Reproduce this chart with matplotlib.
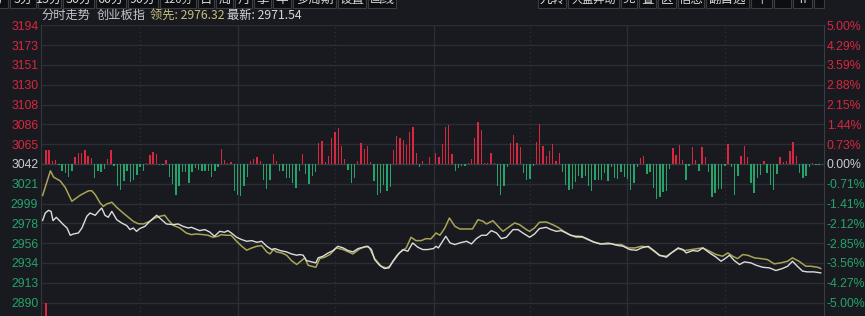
import matplotlib.pyplot as plt
from matplotlib.patches import Rectangle
import numpy as np

# previous close of the index, the chart is +-5% around it
prev_close = 3042.0
price_labels = ["3194", "3173", "3151", "3130", "3108", "3086", "3065", "3042",
                "3021", "2999", "2978", "2956", "2934", "2913", "2890"]
pct_labels = ["5.00%", "4.29%", "3.59%", "2.88%", "2.15%", "1.44%", "0.73%", "0.00%",
              "-0.71%", "-1.41%", "-2.12%", "-2.85%", "-3.56%", "-4.27%", "-5.00%"]

# minute index (0 = 9:30, 240 = 15:00) and price of the index line (white)
white_t = [0, 0.8, 1.8, 2.6, 3.2, 4.2, 4.9, 6.4, 7.5, 8.5, 9.5, 11.0, 12.1, 13.6, 14.6,
           16.2, 17.2, 18.2, 19.2, 20.2, 21.3, 22.8, 24.3, 25.9, 26.9, 27.9, 28.9, 29.9,
           31.5, 33.0, 35.1, 36.6, 38.1, 40.2, 41.7, 43.2, 44.8, 45.8, 46.8, 48.3, 49.9,
           51.4, 52.9, 54.5, 56.0, 57.0, 58.1, 59.7, 61.3, 62.8, 64.4, 65.9, 67.4, 69.0,
           70.5, 71.5, 73.1, 75.1, 76.6, 78.2, 79.2, 80.2, 81.2, 82.8, 84.1, 84.8, 86.3,
           87.9, 89.4, 90.9, 92.5, 94.0, 95.5, 97.1, 98.6, 100.1, 101.2, 102.2, 103.7,
           105.2, 106.6, 107.8, 109.3, 110.9, 112.4, 113.9, 115.5, 117.0, 118.5, 120.3,
           121.1, 121.8, 122.8, 124.1, 125.4, 126.9, 128.4, 130.5, 132.0, 133.5, 135.1,
           136.6, 138.1, 139.7, 141.2, 142.7, 144.8, 146.3, 147.8, 149.9, 151.4, 152.9,
           155.0, 156.5, 158.1, 159.6, 161.1, 162.7, 164.0, 165.9, 167.5, 169.5, 171.5,
           173.6, 175.1, 176.7, 178.7, 180.7, 182.8, 184.3, 186.4, 188.4, 189.9, 192.0,
           193.5, 195.6, 197.1, 198.1, 200.1, 201.7, 203.2, 205.3, 207.3, 208.8, 210.4,
           211.4, 212.9, 214.5, 216.0, 218.0, 219.6, 221.6, 223.7, 225.7, 227.7, 229.3,
           230.8, 232.3, 233.9, 235.4, 237.4, 239.5]
white_p = [2980.0, 2988.2, 2991.1, 2990.0, 2979.8, 2983.5, 2980.9, 2975.4, 2971.8, 2963.8,
           2965.2, 2966.3, 2971.8, 2984.6, 2988.2, 2985.7, 2990.0, 2993.7, 2985.7, 2983.5,
           2990.0, 2980.9, 2977.3, 2974.4, 2970.0, 2971.8, 2968.1, 2971.1, 2973.6, 2979.1,
           2985.7, 2980.9, 2976.2, 2975.4, 2976.2, 2973.6, 2971.8, 2972.5, 2971.1, 2968.9,
           2970.0, 2967.4, 2962.7, 2968.1, 2967.1, 2968.9, 2966.3, 2961.6, 2959.0, 2957.2,
           2957.9, 2956.1, 2957.2, 2951.7, 2948.1, 2949.2, 2947.0, 2945.5, 2943.3, 2941.9,
           2942.6, 2941.9, 2936.0, 2934.6, 2933.5, 2939.0, 2940.8, 2944.4, 2947.0, 2951.7,
           2949.9, 2947.0, 2945.5, 2949.2, 2950.6, 2951.7, 2948.1, 2937.1, 2930.9, 2927.3,
           2928.0, 2935.3, 2942.6, 2948.1, 2946.3, 2955.4, 2950.6, 2948.1, 2948.1, 2949.2,
           2951.7, 2949.9, 2955.4, 2962.7, 2955.4, 2953.6, 2955.4, 2957.2, 2954.3, 2960.1,
           2963.8, 2963.8, 2968.9, 2966.3, 2960.1, 2961.6, 2970.0, 2970.0, 2966.3, 2961.6,
           2965.2, 2971.1, 2972.5, 2970.0, 2968.1, 2968.9, 2966.3, 2963.6, 2962.7, 2962.5,
           2960.1, 2956.5, 2954.3, 2954.3, 2954.6, 2952.8, 2951.7, 2948.1, 2947.3, 2949.9,
           2951.7, 2946.3, 2941.9, 2939.7, 2944.4, 2949.9, 2948.1, 2944.4, 2947.0, 2946.3,
           2949.9, 2944.4, 2939.7, 2935.3, 2939.0, 2941.9, 2936.0, 2931.7, 2934.6, 2933.5,
           2930.9, 2928.7, 2928.0, 2925.1, 2927.3, 2929.8, 2935.3, 2929.8, 2924.4, 2923.6,
           2923.6, 2922.5]

# leading index line (yellow)
yellow_t = [0, 2.4, 3.4, 5.4, 7.0, 9.0, 11.6, 14.1, 15.1, 16.2, 17.7, 18.7, 19.7, 21.3,
            22.8, 24.8, 26.4, 27.9, 29.4, 31.0, 33.0, 34.5, 36.1, 37.6, 38.6, 40.2, 42.2,
            44.2, 45.8, 47.3, 49.4, 50.9, 52.4, 54.0, 55.0, 56.5, 58.0, 59.7, 61.3, 62.8,
            64.4, 65.9, 67.4, 69.0, 70.0, 71.0, 72.0, 73.6, 75.1, 76.6, 78.2, 79.2, 80.7,
            81.7, 82.8, 84.1, 85.3, 86.8, 88.4, 90.4, 92.5, 95.5, 97.6, 99.6, 100.6, 102.2,
            104.2, 105.8, 106.8, 108.3, 109.8, 111.9, 113.4, 114.9, 116.5, 118.0, 119.5,
            121.1, 122.3, 123.8, 125.2, 126.9, 128.4, 130.5, 132.3, 134.0, 135.6, 136.6,
            138.6, 140.2, 141.7, 143.8, 145.3, 146.8, 148.9, 149.9, 151.4, 152.9, 155.0,
            157.0, 158.6, 160.1, 162.1, 164.2, 166.2, 167.8, 169.9, 172.0, 174.0, 176.0,
            178.1, 180.2, 182.3, 184.3, 186.4, 188.4, 189.9, 192.0, 193.5, 195.6, 197.6,
            199.6, 201.7, 203.2, 205.3, 207.3, 209.3, 210.9, 212.4, 213.9, 215.5, 217.0,
            219.1, 221.1, 223.1, 225.2, 227.2, 229.3, 230.8, 232.8, 234.9, 236.4, 238.5,
            239.5]
yellow_p = [3007.5, 3034.5, 3027.5, 3023.5, 3016.0, 3001.1, 3007.8, 3012.5, 3012.7, 3008.3,
            2999.2, 2995.5, 2998.1, 3000.0, 2994.4, 2988.2, 2983.5, 2979.1, 2976.5, 2976.2,
            2979.1, 2982.7, 2984.6, 2985.7, 2980.9, 2974.7, 2971.8, 2966.3, 2964.5, 2965.2,
            2964.5, 2963.8, 2961.6, 2962.7, 2964.5, 2963.8, 2963.8, 2957.2, 2951.7, 2947.4,
            2949.9, 2951.7, 2952.5, 2945.5, 2943.3, 2948.1, 2945.5, 2944.4, 2941.9, 2936.0,
            2931.7, 2934.6, 2939.0, 2930.9, 2929.8, 2928.7, 2938.2, 2939.7, 2942.6, 2949.9,
            2948.1, 2943.3, 2948.8, 2951.7, 2949.9, 2938.2, 2929.8, 2928.0, 2929.8, 2937.1,
            2944.4, 2949.9, 2961.6, 2957.9, 2957.9, 2960.1, 2959.8, 2966.3, 2963.8, 2971.8,
            2982.7, 2973.6, 2970.7, 2970.7, 2970.7, 2980.9, 2979.1, 2976.2, 2979.8, 2973.6,
            2968.1, 2973.6, 2977.3, 2975.4, 2970.0, 2968.1, 2971.8, 2978.0, 2978.4, 2975.4,
            2972.5, 2968.9, 2964.5, 2961.6, 2961.6, 2959.0, 2956.1, 2954.3, 2955.4, 2953.6,
            2953.6, 2949.9, 2949.9, 2951.7, 2951.0, 2945.5, 2941.5, 2940.8, 2944.4, 2949.2,
            2947.0, 2948.1, 2949.2, 2949.9, 2946.3, 2942.6, 2940.8, 2944.4, 2940.8, 2938.2,
            2942.6, 2941.9, 2939.0, 2938.2, 2937.1, 2932.4, 2933.5, 2935.3, 2939.0, 2935.3,
            2929.8, 2929.8, 2928.7, 2927.3]

# red / green strength bars, one per minute (241 minutes), raw units
bars_am = [43, 43, 9, 11, -3, -20, -28, -38, -22, 22,
           34, 34, 41, 25, 17, -42, -20, -24, -16, 16,
           43, -5, -65, -78, -52, -22, -55, -48, -33, -8,
           -22, 2, 27, 37, 30, -2, -2, 11, -40, -60,
           -92, -67, -25, -23, -58, -25, -13, -18, -20, -20,
           -20, -38, -22, -10, 45, 13, 3, 5, -82, -92,
           -96, -65, -38, 9, 16, 20, 10, -47, -76, -47,
           30, 9, -22, -20, -42, -42, -56, -73, -22, 30,
           -30, -60, -35, -25, 63, 70, 5, 25, 77, 95,
           108, 53, 16, -17, -57, -42, 9, 63, 44, 53,
           7, -50, -92, -88, -63, -82, -70, 43, 83, 77,
           73, 57, 97, 110, 32, -9, 8, 0, 22]
bars_pm = [32, 20, 60, 110, 116, 30, -20, -12, -5, -6,
           2, 14, 77, 127, 102, 2, 2, 34, 2, -67,
           -92, -65, -10, 63, 88, 62, 52, -27, -47, -45,
           -5, 65, 120, 53, 25, 38, 60, 9, 32, -24,
           -63, -78, -75, -55, -36, -43, -37, -65, -80, -47,
           -48, -48, -28, -52, -10, -43, -46, -23, -40, -45,
           -78, -58, -10, 17, 23, -30, -25, -72, -106, -100,
           -85, -80, -15, 47, 27, 57, 12, -48, -5, 50,
           12, -20, 52, 20, -23, -100, -88, -75, -75, -5,
           60, -8, -93, -37, 25, 53, 20, -56, -86, -42,
           -32, 9, -26, -62, -77, -30, 20, 6, 9, 38,
           65, 25, -28, -42, -36, -8, 2, -4, -4]
bars = [0] + bars_am + [0] + bars_pm + [0]
bar_scale = 0.366

first_volume = 1.0

# toolbar buttons (cut off at the top of the screenshot)
tools_left = ["1分", "5分", "15分", "30分", "60分", "90分", "120分", "日", "周", "月", "季",
              "年", "多周期", "设置", "画线"]
tools_right = ["九转", "大盘异动", "竞", "叠", "区", "信息", "翻自选", "↑", "", "⇈", ""]

BG = "#181a1f"
GRID = "#2b2e34"
RED = "#d8273f"
GREEN = "#26a36a"
NEUTRAL = "#c9ccd1"

plt.rcParams["font.family"] = ["Liberation Sans", "DejaVu Sans"]
cjk = ["Noto Sans CJK SC", "DejaVu Sans"]

W, H = 865, 316
fig = plt.figure(figsize=(W / 100, H / 100), dpi=100, facecolor=BG)

# toolbar strip
bar_h = 7.5
left_edges = [-20, 9, 37, 62, 95, 127, 159, 197, 215, 234, 253, 272, 292, 337, 367, 397]
right_edges = [537, 567, 620, 638, 657, 677, 705, 750, 773, 792, 813, 825]
for edges, labels in [(left_edges, tools_left), (right_edges, tools_right)]:
    for i, lab in enumerate(labels):
        x0, x1 = edges[i] + 1, edges[i + 1] - 1
        fig.patches.append(Rectangle((x0 / W, 1 - bar_h / H), (x1 - x0) / W, bar_h / H + 0.01,
                                     transform=fig.transFigure, facecolor="#0d0e11",
                                     edgecolor="#3b3d42", lw=0.8, zorder=1))
        if lab:
            fs = 9 if len(lab) < 4 else 8
            fig.text((x0 + x1) / 2 / W, 1 + 0.5 / H, lab, color="#d8d8d8", fontsize=fs,
                     ha="center", va="center", family=cjk, zorder=2)

ax = fig.add_axes([41 / W, 0, 783 / W, 291 / H])
ax.set_facecolor(BG)
ax.set_xlim(-0.5, 240.5)
ax.set_ylim(2875.2, 3194.5)

levels = np.linspace(prev_close * 0.95, prev_close * 1.05, 15)[::-1]
for lv in levels:
    ax.axhline(lv, color="#3a3d44" if abs(lv - prev_close) < 0.1 else GRID, lw=1, zorder=1)

for m in [30, 90, 150, 210]:
    ax.axvline(m, color=GRID, lw=1, ls=(0, (1, 2)), zorder=1)
for m in [60, 120.5, 180]:
    ax.axvline(m, color=GRID, lw=1, zorder=1)

vals = np.array(bars) * bar_scale
ax.bar(np.arange(len(bars)), vals, bottom=prev_close, width=0.42,
       color=[RED if v > 0 else GREEN for v in vals], linewidth=0, zorder=2)

ax.plot(yellow_t, yellow_p, color="#a9a456", lw=1.1, zorder=3)
ax.plot(white_t, white_p, color="#dcdcdc", lw=1.0, zorder=4)

for side in ["top", "bottom"]:
    ax.spines[side].set_visible(False)
ax.spines["left"].set_color("#34373e")
ax.spines["right"].set_color("#3a3d44")

ax.set_xticks([])
ax.set_yticks(levels)
ax.set_yticklabels(price_labels)
ax.tick_params(axis="y", length=0, pad=2, labelsize=8.8)

ax2 = ax.twinx()
ax2.set_ylim(ax.get_ylim())
ax2.set_yticks(levels)
ax2.set_yticklabels(pct_labels)
ax2.tick_params(axis="y", length=0, pad=2, labelsize=8.8)
for s in ax2.spines.values():
    s.set_visible(False)

for lab_l, lab_r, lv in zip(ax.get_yticklabels(), ax2.get_yticklabels(), levels):
    c = NEUTRAL if abs(lv - prev_close) < 0.1 else (RED if lv > prev_close else GREEN)
    lab_l.set_color(c)
    lab_r.set_color(c)

# volume panel below, only the opening bar pokes into view
axv = fig.add_axes([41 / W, 0, 783 / W, 13 / H])
axv.set_xlim(-0.5, 240.5)
axv.set_ylim(0, 1)
axv.bar([1], [first_volume], width=0.42, color=RED, linewidth=0)
axv.axis("off")
axv.patch.set_alpha(0)

# title row
ty = 1 - 15.5 / H
fig.text(41 / W, ty, "分时走势", color="#c4c6ca", fontsize=8.8, va="center", family=cjk)
fig.text(97 / W, ty, "创业板指", color="#c4c6ca", fontsize=8.8, va="center", family=cjk)
fig.text(150 / W, ty, "领先: 2976.32", color="#c7c07a", fontsize=8.8, va="center", family=cjk)
fig.text(227 / W, ty, "最新: 2971.54", color="#d4d6da", fontsize=8.8, va="center", family=cjk)

fig.savefig("out.png", dpi=100, facecolor=BG)
